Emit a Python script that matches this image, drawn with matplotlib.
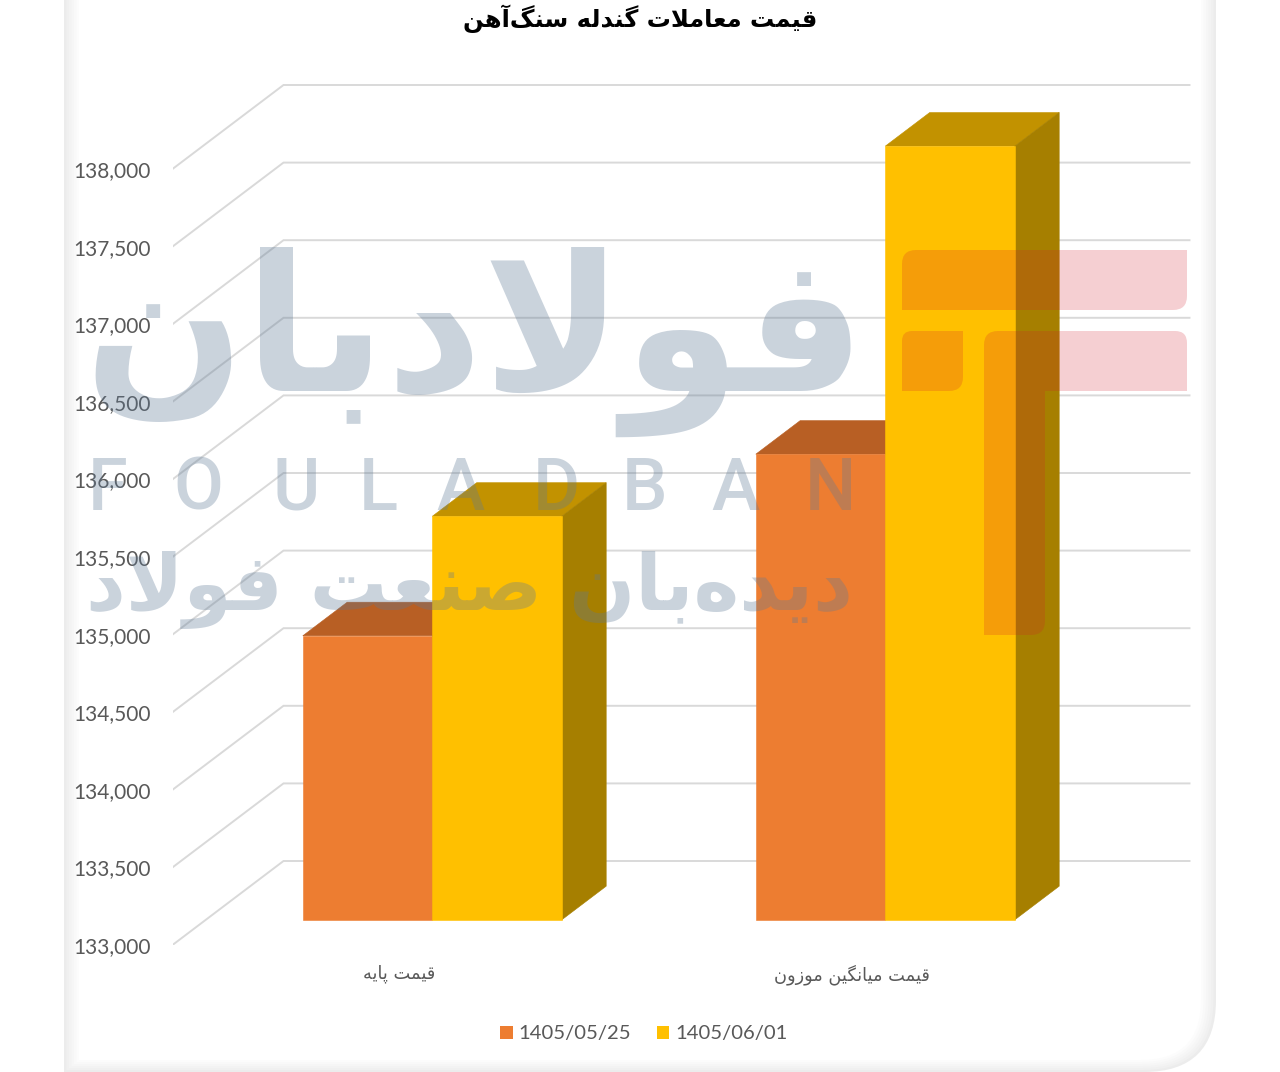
"""Nemodar 3D-style sotuni: gheymat moamelat gandole sang-ahan."""

import matplotlib
matplotlib.use("Agg")
import matplotlib.pyplot as plt
from matplotlib.patches import Patch, PathPatch, Polygon
from matplotlib.path import Path
from matplotlib.ticker import StrMethodFormatter
import numpy as np

# -----------------------------------------------------------------------
#  Data
# -----------------------------------------------------------------------
TITLE = "قیمت معاملات گندله سنگ\u200cآهن"
CATEGORIES = ["قیمت پایه", "قیمت میانگین موزون"]
SERIES_NAMES = ["1405/05/25", "1405/06/01"]
VALUES_FIRST = [134830, 136000]
VALUES_SECOND = [135600, 137985]
Y_TICKS = [133000, 133500, 134000, 134500, 135000, 135500,
           136000, 136500, 137000, 137500, 138000]

LOGO_NAME = "فولادبان"
LOGO_LATIN = list("FOULADBAN")
LOGO_SLOGAN = "دیده\u200cبان صنعت فولاد"

# Colors: front, top, side of each series
ORANGE = ("#ED7D31", "#B85F24", "#A05A20")
YELLOW = ("#FFC000", "#C29200", "#A67F00")
GRID = "#D9D9D9"
TEXT = "#595959"
MARK_GRAY = "#5F7A96"
MARK_RED = "#D11F2B"

W, H = 1280, 1072

# Oblique projection of the floor depth, in pixels
PX_PER_CAT = 453.0
PX_PER_500 = 77.6
DX = 111.0 / PX_PER_CAT
DY = 84.0 / PX_PER_500 * 500
BAR_W = 129.5 / PX_PER_CAT
BAR_FRONT, BAR_BACK = 0.30, 0.70

# -----------------------------------------------------------------------
#  Arabic shaping (matplotlib has none): forms = isol, final, init, medial
# -----------------------------------------------------------------------
FORMS = {
    "ا": "\uFE8D\uFE8E", "آ": "\uFE81\uFE82", "د": "\uFEA9\uFEAA",
    "ز": "\uFEAF\uFEB0", "و": "\uFEED\uFEEE",
    "ب": "\uFE8F\uFE90\uFE91\uFE92", "پ": "\uFB56\uFB57\uFB58\uFB59",
    "ت": "\uFE95\uFE96\uFE97\uFE98", "س": "\uFEB1\uFEB2\uFEB3\uFEB4",
    "ص": "\uFEB9\uFEBA\uFEBB\uFEBC", "ع": "\uFEC9\uFECA\uFECB\uFECC",
    "ف": "\uFED1\uFED2\uFED3\uFED4", "ق": "\uFED5\uFED6\uFED7\uFED8",
    "گ": "\uFB92\uFB93\uFB94\uFB95", "ل": "\uFEDD\uFEDE\uFEDF\uFEE0",
    "م": "\uFEE1\uFEE2\uFEE3\uFEE4", "ن": "\uFEE5\uFEE6\uFEE7\uFEE8",
    "ه": "\uFEE9\uFEEA\uFEEB\uFEEC", "ی": "\uFBFC\uFBFD\uFBFE\uFBFF",
}


def shape_fa(text):
    """Return the string in visual order with joined glyph forms."""
    out = []
    i = 0
    n = len(text)
    while i < n:
        ch = text[i]
        if ch not in FORMS:
            if ch != "\u200c":
                out.append(ch)
            i += 1
            continue
        prev = text[i - 1] if i > 0 else ""
        joins_prev = prev in FORMS and len(FORMS[prev]) == 4
        if ch == "ل" and i + 1 < n and text[i + 1] == "ا":
            out.append("\uFEFC" if joins_prev else "\uFEFB")
            i += 2
            continue
        nxt = text[i + 1] if i + 1 < n else ""
        joins_next = len(FORMS[ch]) == 4 and nxt in FORMS
        if joins_prev and joins_next:
            out.append(FORMS[ch][3])
        elif joins_next:
            out.append(FORMS[ch][2])
        elif joins_prev:
            out.append(FORMS[ch][1])
        else:
            out.append(FORMS[ch][0])
        i += 1
    return "".join(reversed(out))


def project(x, value, depth):
    return (x + depth * DX, value + depth * DY)


def draw_bar(ax, left, value, colors, zorder):
    """One box: top and right side faces, then the front face."""
    base = Y_TICKS[0]
    right = left + BAR_W
    top = [project(left, value, BAR_FRONT), project(right, value, BAR_FRONT),
           project(right, value, BAR_BACK), project(left, value, BAR_BACK)]
    side = [project(right, base, BAR_FRONT), project(right, base, BAR_BACK),
            project(right, value, BAR_BACK), project(right, value, BAR_FRONT)]
    front = [project(left, base, BAR_FRONT), project(right, base, BAR_FRONT),
             project(right, value, BAR_FRONT), project(left, value, BAR_FRONT)]
    ax.add_patch(Polygon(top, fc=colors[1], ec=colors[1], lw=0.4, zorder=zorder))
    ax.add_patch(Polygon(side, fc=colors[2], ec=colors[2], lw=0.4, zorder=zorder))
    ax.add_patch(Polygon(front, fc=colors[0], ec=colors[0], lw=0.4, zorder=zorder + 0.1))


def rounded_poly(points):
    """Closed path through (x, y, radius) corners, radius 0 = sharp."""
    verts, codes = [], []
    n = len(points)
    for k, (x, y, r) in enumerate(points):
        p = np.array([x, y], dtype=float)
        before = np.array(points[k - 1][:2], dtype=float)
        after = np.array(points[(k + 1) % n][:2], dtype=float)
        a = p + (before - p) / np.linalg.norm(before - p) * r
        b = p + (after - p) / np.linalg.norm(after - p) * r
        verts.append(a)
        codes.append(Path.MOVETO if k == 0 else Path.LINETO)
        verts.extend([p, b])
        codes.extend([Path.CURVE3, Path.CURVE3])
    verts.append(verts[0])
    codes.append(Path.CLOSEPOLY)
    return Path(verts, codes)


fig = plt.figure(figsize=(W / 100, H / 100), dpi=100, facecolor="white")

# -----------------------------------------------------------------------
#  Card background, with the soft inner shadow on its edges
# -----------------------------------------------------------------------
bg = fig.add_axes([0, 0, 1, 1], zorder=0)
bg.set_xlim(0, W)
bg.set_ylim(H, 0)
bg.axis("off")
shades = ["#ECECEC", "#F0F0F0", "#F3F3F3", "#F6F6F6", "#F9F9F9", "#FCFCFC", "#FFFFFF"]
for k, shade in enumerate(shades):
    x0 = 64 + k * 2.5
    x1 = 1216 - k * 2.5
    y1 = 1072 - k * 2
    card = [(x0, -20, 0), (x1, -20, 0), (x1, y1, 72 - k * 2), (x0, y1, 0)]
    bg.add_patch(PathPatch(rounded_poly(card), fc=shade, ec="none"))

# -----------------------------------------------------------------------
#  Chart axes: x in category units, y in value units
# -----------------------------------------------------------------------
left_px, bottom_px = 172.5, 945.0
top_px = 60.0
ax = fig.add_axes([left_px / W, (H - bottom_px) / H,
                   (W - left_px) / W, (bottom_px - top_px) / H], zorder=1)
ax.patch.set_alpha(0)
ax.set_xlim(-0.5, -0.5 + (W - left_px) / PX_PER_CAT)
ax.set_ylim(Y_TICKS[0], Y_TICKS[0] + (bottom_px - top_px) / PX_PER_500 * 500)
for spine in ax.spines.values():
    spine.set_visible(False)

plain = ["Lato", "DejaVu Sans"]
ax.set_yticks(Y_TICKS)
ax.yaxis.set_major_formatter(StrMethodFormatter("{x:,.0f}"))
ax.tick_params(axis="y", length=0, pad=15.5, labelsize=15, labelcolor=TEXT)
ax.set_xticks(range(len(CATEGORIES)))
ax.set_xticklabels([shape_fa(c) for c in CATEGORIES], family="DejaVu Sans")
ax.tick_params(axis="x", length=0, pad=14, labelsize=12.8, labelcolor=TEXT)
for lab in ax.get_yticklabels():
    lab.set_family(plain)

# Grid: floor diagonal, then along the back wall
x_left, x_right = -0.5, 1.5
for v in Y_TICKS:
    xs = [x_left, x_left + DX, x_right + DX]
    ys = [v, v + DY, v + DY]
    ax.plot(xs, ys, color=GRID, lw=1.4, solid_joinstyle="miter", zorder=1)

for i in range(len(CATEGORIES)):
    draw_bar(ax, i - BAR_W, VALUES_FIRST[i], ORANGE, 3)
    draw_bar(ax, i, VALUES_SECOND[i], YELLOW, 4)

handles = [Patch(fc=ORANGE[0], lw=0, label=SERIES_NAMES[0]),
           Patch(fc=YELLOW[0], lw=0, label=SERIES_NAMES[1])]
fig.legend(handles=handles, ncols=2, frameon=False, loc="center",
           bbox_to_anchor=(644 / W, 1 - 1034 / H),
           prop={"family": plain, "size": 14.6}, labelcolor=TEXT,
           handlelength=0.62, handleheight=0.62, handletextpad=0.3,
           columnspacing=1.25)

fig.text(640 / W, 1 - 19 / H, shape_fa(TITLE), ha="center", va="center",
         fontsize=17.4, fontweight="bold", color="black", family="DejaVu Sans")

# -----------------------------------------------------------------------
#  Watermark over everything (pixel coordinates)
# -----------------------------------------------------------------------
wm = fig.add_axes([0, 0, 1, 1], zorder=5)
wm.set_xlim(0, W)
wm.set_ylim(H, 0)
wm.axis("off")
wm.patch.set_alpha(0)

wm.text(475, 342, shape_fa(LOGO_NAME), ha="center", va="center", fontsize=136,
        fontweight="bold", color=MARK_GRAY, alpha=0.33, family="DejaVu Sans")
latin_x = [108, 198, 296, 378, 460, 556, 645, 735, 830]
for letter, x in zip(LOGO_LATIN, latin_x):
    wm.text(x, 490, letter, ha="center", va="center", fontsize=52,
            fontweight="medium", color=MARK_GRAY, alpha=0.33, family="Roboto")
wm.text(469, 590, shape_fa(LOGO_SLOGAN), ha="center", va="center", fontsize=55.8,
        fontweight="bold", color=MARK_GRAY, alpha=0.33, family="DejaVu Sans")

# Logo blocks: upper bar, small square, T shape
logo_shapes = [
    [(902, 250, 14), (1187, 250, 0), (1187, 310, 14), (902, 310, 0)],
    [(902, 331, 10), (963, 331, 0), (963, 391, 14), (902, 391, 0)],
    [(984, 331, 14), (1187, 331, 12), (1187, 391, 0), (1045, 391, 0),
     (1045, 635, 14), (984, 635, 0)],
]
for shape in logo_shapes:
    wm.add_patch(PathPatch(rounded_poly(shape), fc=MARK_RED, ec="none", alpha=0.21))

fig.savefig("out.png", dpi=100)
